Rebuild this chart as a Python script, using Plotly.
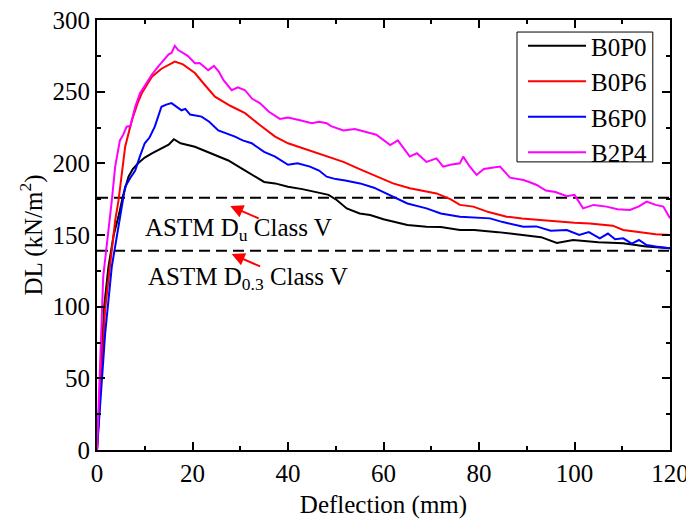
import plotly.graph_objects as go

# ---------------- data ----------------
b0p0_x = [0, 0.7, 1.5, 2.4, 3.5, 4.5, 5.5, 6.6, 7.5, 8.6, 10, 11.5, 13.5, 15, 16.1, 17.5, 20.5, 24, 27.5, 30,
          33.1, 35, 37.3, 40, 43, 46.7, 48.5, 50.2, 52.3, 55, 57.2, 60, 62, 65, 69, 72, 76, 79, 84, 89.3,
          93, 96.3, 99.7, 105, 110.2, 115, 120]
b0p0_y = [0, 50, 100, 128, 150, 163, 178, 190.7, 196, 200, 204, 207, 210.5, 213, 216.8, 214, 211.6, 207, 202, 197,
          190.7, 187, 186, 183.7, 182, 179, 178, 174.4, 168.5, 165, 164, 161, 159.3, 157, 155.8, 155.5, 153.5, 153.5, 152, 150,
          148.5, 144.4, 146.5, 145, 144.2, 142, 140.7]

b0p6_x = [0, 0.8, 1.7, 2.7, 3.8, 4.5, 5.9, 7.3, 8.5, 9.4, 10.5, 11.5, 13.5, 15, 16.3, 18, 20.5, 22.5, 24.7, 28,
          31, 34.1, 37.3, 40, 44.6, 48, 51.6, 55, 58.6, 62, 65.5, 68, 71.1, 74, 76, 78.8, 82, 85.8, 89, 92.8,
          96, 100, 103.2, 106, 108, 110.2, 114, 117, 120]
b0p6_y = [0, 50, 98, 128, 160, 174, 211.6, 230, 242, 249, 255, 260.5, 266, 269, 271, 269, 263, 255, 246.5, 240,
          235, 226.7, 218.6, 214, 209, 205, 201, 196, 190.7, 186, 182.6, 181, 179, 175, 171, 169.8, 166, 162.8, 161.5, 160.5,
          159.5, 158.5, 158.1, 157, 156.5, 153.5, 152, 150.5, 150]

b6p0_x = [0, 0.8, 1.7, 3.1, 4.2, 5.2, 5.9, 7, 8, 9, 10, 11, 12.1, 13.5, 14.5, 15.6, 16.5, 17.7, 18.5, 19.5,
          21.9, 23.5, 25.4, 27, 28.9, 30.5, 32.4, 35, 37.3, 40, 42, 44.6, 46.5, 48.1, 50, 52, 55.1, 58, 62, 65,
          69, 72, 76, 79, 82.3, 85, 89.3, 92, 95, 98.4, 101, 103, 105.3, 107, 108.5, 110.2, 112, 113.5, 115.1, 117, 120]
b6p0_y = [0, 40, 81, 128, 150, 170, 183.7, 190, 195, 205, 214, 218, 225.6, 239.5, 241, 242, 240, 237, 238, 234,
          232.6, 229, 223, 221, 218.6, 216, 214, 208, 204.7, 199, 200, 197.7, 195, 190.7, 189, 188, 186, 183, 177, 172,
          168.6, 165, 162.8, 162, 161.6, 159, 155.8, 156, 153, 153.5, 150, 152, 147.7, 151, 147, 147.7, 144, 146.5, 143, 142, 140.7]

b2p4_x = [0, 0.5, 1, 1.3, 2.4, 3.1, 3.8, 4.8, 5.5, 6.2, 7, 8, 9, 10.7, 11.5, 12.8, 14, 15, 15.6, 16.3,
          17, 18, 19, 20.5, 21.5, 23.3, 24.5, 25.5, 26.5, 28.2, 29.5, 31, 32.5, 34.1, 36, 38.3, 40, 42.5, 45, 46.5,
          48.1, 49, 51.6, 54, 56.5, 58.5, 61.4, 63, 65.5, 67, 69, 71.1, 72.5, 74, 76, 76.7, 78, 79.5, 81, 84.4,
          86.5, 89.3, 90.5, 92.1, 94, 96, 98.4, 100, 101.8, 104, 106.7, 109, 111.6, 113.5, 115.1, 117, 118.6, 120]
b2p4_y = [0, 55, 93, 121, 151, 174, 197.7, 216, 220, 225.6, 226, 239.5, 249, 258, 262, 267.5, 272, 276, 277, 282,
          279, 277, 275, 269.8, 270, 265, 268, 264, 258, 251, 253, 251, 245, 242, 236, 231, 232, 230, 228, 229,
          228, 226, 223, 224, 222, 220, 212.8, 216, 204.7, 207, 201, 203.5, 197.7, 199, 200, 204.7, 198, 191.9, 196, 197.7,
          190, 188.4, 187, 184.9, 181, 180, 177, 178, 168.6, 171, 169.8, 168, 167.5, 170, 173.3, 171, 169.8, 161.6]

series_names = ["B0P0", "B0P6", "B6P0", "B2P4"]
series_colors = ["#000000", "#ff0000", "#0000ff", "#ff00ff"]

ref_x = [0, 120]
du_level = 176      # ASTM Du Class V
d03_level = 139     # ASTM D0.3 Class V

x_title = "Deflection (mm)"
y_title = "DL (kN/m<sup>2</sup>)"
label_du = "ASTM D<sub>u</sub> Class V"
label_d03 = "ASTM D<sub>0.3</sub> Class V"

# ---------------- figure ----------------
FONT = "Liberation Serif"
FS = 25
fig = go.Figure()

for lvl in (du_level, d03_level):
    fig.add_trace(go.Scatter(x=ref_x, y=[lvl, lvl], mode="lines", showlegend=False,
                             line=dict(color="black", width=2, dash="11px,6px"), hoverinfo="skip"))

for name, xs, ys, c in zip(series_names,
                           [b0p0_x, b0p6_x, b6p0_x, b2p4_x],
                           [b0p0_y, b0p6_y, b6p0_y, b2p4_y],
                           series_colors):
    fig.add_trace(go.Scatter(x=xs, y=ys, mode="lines", name=name,
                             line=dict(color=c, width=2)))

axis_common = dict(showgrid=False, zeroline=False, showline=True, linecolor="black", linewidth=2,
                   mirror="allticks", ticks="inside", ticklen=8, tickwidth=2, tickcolor="black",
                   automargin=False, ticklabeloverflow="allow",
                   tickfont=dict(family=FONT, size=FS, color="black"))

fig.update_xaxes(range=[0, 120], dtick=20, tick0=0,
                 minor=dict(ticks="inside", dtick=10, ticklen=4, tickwidth=2, tickcolor="black"),
                 title=dict(text=x_title, font=dict(family=FONT, size=FS, color="black"), standoff=9),
                 **axis_common)
fig.update_yaxes(range=[0, 300], dtick=50, tick0=0,
                 minor=dict(ticks="inside", dtick=25, ticklen=4, tickwidth=2, tickcolor="black"),
                 title=dict(text=y_title, font=dict(family=FONT, size=FS, color="black"), standoff=3),
                 **axis_common)

arrow_common = dict(showarrow=True, arrowhead=2, arrowsize=1.3, arrowwidth=2, arrowcolor="red",
                    ax=30, ay=13, text="", xref="x", yref="y")
fig.add_annotation(x=27.9, y=170.2, **arrow_common)
fig.add_annotation(x=28.2, y=136.7, **arrow_common)

fig.add_annotation(x=29.7, y=153.5, xref="x", yref="y", text=label_du, showarrow=False,
                   font=dict(family=FONT, size=FS, color="black"), xanchor="center", yanchor="middle")
fig.add_annotation(x=31.7, y=120, xref="x", yref="y", text=label_d03, showarrow=False,
                   font=dict(family=FONT, size=FS, color="black"), xanchor="center", yanchor="middle")

# legend frame (drawn as a shape so its size matches the reference)
fig.add_shape(type="rect", xref="paper", yref="paper", x0=0.733, x1=0.970, y0=0.670, y1=0.972,
              line=dict(color="black", width=1), fillcolor="rgba(0,0,0,0)", layer="above")

fig.update_layout(
    width=694, height=525,
    margin=dict(l=89, r=32, t=12, b=83, autoexpand=False),
    paper_bgcolor="white", plot_bgcolor="white",
    font=dict(family=FONT, size=FS, color="black"),
    legend=dict(x=0.7435, xanchor="left", y=0.993, yanchor="top",
                borderwidth=0, bgcolor="rgba(0,0,0,0)",
                font=dict(family=FONT, size=FS, color="black"),
                itemwidth=58, tracegroupgap=0),
    showlegend=True,
)

fig.write_html("out.html")
